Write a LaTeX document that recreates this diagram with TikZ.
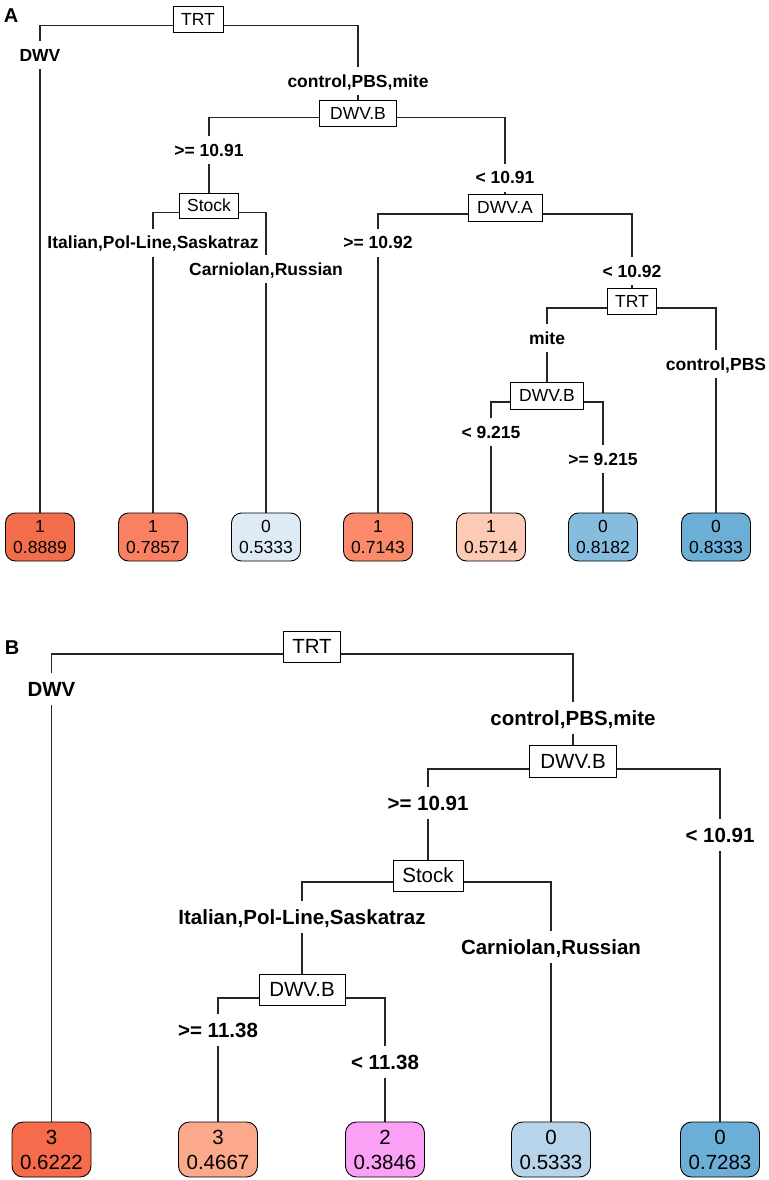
\documentclass[tikz,border=0pt]{standalone}
\usepackage{fontspec}
\setmainfont{Liberation Sans}
\usetikzlibrary{backgrounds}
\definecolor{cA1}{RGB}{244,109,75}
\definecolor{cA2}{RGB}{249,129,98}
\definecolor{cA3}{RGB}{222,235,247}
\definecolor{cA4}{RGB}{251,138,106}
\definecolor{cA5}{RGB}{252,202,181}
\definecolor{cA6}{RGB}{134,189,223}
\definecolor{cA7}{RGB}{107,174,214}
\definecolor{cB1}{RGB}{246,107,76}
\definecolor{cB2}{RGB}{252,168,139}
\definecolor{cB3}{RGB}{250,160,245}
\definecolor{cB4}{RGB}{183,212,235}
\definecolor{cB5}{RGB}{107,174,214}
\begin{document}
\begin{tikzpicture}[x=1pt,y=-1pt,
  edge/.style={line width=1.1pt, draw=black!85},
  boxA/.style={draw, fill=white, line width=0.9pt, inner sep=0pt, minimum height=26, font=\fontsize{17.5}{20}\selectfont},
  boxB/.style={draw, fill=white, line width=0.9pt, inner sep=0pt, minimum height=31, font=\fontsize{20.5}{24}\selectfont},
  lblA/.style={fill=white, inner xsep=1pt, inner ysep=0pt, minimum height=28, text height=12.6, text depth=0, font=\fontsize{17.5}{20}\selectfont\bfseries},
  lblB/.style={fill=white, inner xsep=1pt, inner ysep=0pt, minimum height=32, text height=14.8, text depth=0, font=\fontsize{20.5}{24}\selectfont\bfseries},
  leafA/.style={draw, line width=0.9pt, rounded corners=10pt, minimum width=69, minimum height=48, inner sep=0pt, align=center, font=\fontsize{17.5}{21}\selectfont},
  leafB/.style={draw, line width=0.9pt, rounded corners=11pt, minimum width=79, minimum height=55, inner sep=0pt, align=center, font=\fontsize{20.5}{25}\selectfont},
  panel/.style={font=\fontsize{20}{22}\selectfont\bfseries, inner sep=0pt, text height=14.5, text depth=0}
]
\useasboundingbox (0,0) rectangle (768,1180);

% ---------------- Panel A ----------------
\node[panel] (pA) at (11,15) {A};
\node[boxA, minimum width=50] (tA) at (198,19.5) {TRT};
\node[lblA] (lA1) at (40,55) {DWV};
\node[lblA] (lA2) at (358,81) {control,PBS,mite};
\node[boxA, minimum width=77] (dA) at (358,113) {DWV.B};
\node[lblA] (lA3) at (209,150) {>= 10.91};
\node[boxA, minimum width=59, minimum height=25] (sA) at (209,205.5) {Stock};
\node[lblA] (lA4) at (153,242.5) {Italian,Pol-Line,Saskatraz};
\node[lblA] (lA5) at (266,269) {Carniolan,Russian};
\node[lblA] (lA6) at (505,177.5) {< 10.91};
\node[boxA, minimum width=74, minimum height=27] (aA) at (505,207.5) {DWV.A};
\node[lblA] (lA7) at (378,242.5) {>= 10.92};
\node[lblA] (lA8) at (632,271) {< 10.92};
\node[boxA, minimum width=49] (t2A) at (632,301) {TRT};
\node[lblA] (lA9) at (547,338) {mite};
\node[boxA, minimum width=73, minimum height=27] (b3A) at (547,395.5) {DWV.B};
\node[lblA] (lA10) at (491,432) {< 9.215};
\node[lblA] (lA11) at (603,459) {>= 9.215};
\node[lblA] (lA12) at (716,364) {control,PBS};

\node[leafA, fill=cA1] (fA1) at (40,537) {1\\0.8889};
\node[leafA, fill=cA2] (fA2) at (153,537) {1\\0.7857};
\node[leafA, fill=cA3] (fA3) at (266,537) {0\\0.5333};
\node[leafA, fill=cA4] (fA4) at (378,537) {1\\0.7143};
\node[leafA, fill=cA5] (fA5) at (491,537) {1\\0.5714};
\node[leafA, fill=cA6] (fA6) at (603,537) {0\\0.8182};
\node[leafA, fill=cA7] (fA7) at (716,537) {0\\0.8333};

% ---------------- Panel B ----------------
\node[panel] (pB) at (12,647) {B};
\node[boxB, minimum width=57] (tB) at (312,646.5) {TRT};
\node[lblB] (lB1) at (51.5,689) {DWV};
\node[lblB] (lB2) at (573,718) {control,PBS,mite};
\node[boxB, minimum width=87, minimum height=32] (dB) at (573,761) {DWV.B};
\node[lblB] (lB3) at (428,803) {>= 10.91};
\node[lblB] (lB4) at (720,835) {< 10.91};
\node[boxB, minimum width=70] (sB) at (428,875.5) {Stock};
\node[lblB] (lB5) at (302,917) {Italian,Pol-Line,Saskatraz};
\node[lblB] (lB6) at (551,947) {Carniolan,Russian};
\node[boxB, minimum width=86] (d2B) at (302,989.5) {DWV.B};
\node[lblB] (lB7) at (218,1030) {>= 11.38};
\node[lblB] (lB8) at (385,1062) {< 11.38};

\node[leafB, fill=cB1] (fB1) at (51.5,1149.5) {3\\0.6222};
\node[leafB, fill=cB2] (fB2) at (218,1149.5) {3\\0.4667};
\node[leafB, fill=cB3] (fB3) at (385,1149.5) {2\\0.3846};
\node[leafB, fill=cB4] (fB4) at (551,1149.5) {0\\0.5333};
\node[leafB, fill=cB5] (fB5) at (720,1149.5) {0\\0.7283};

% ---------------- Connectors ----------------
\begin{pgfonlayer}{background}
\fill[white] (0,0) rectangle (768,1180);
\draw[edge] (fA1.north) |- ([yshift=-6pt]tA.center) -| (dA.north);
\draw[edge] (sA.north) |- ([yshift=-4.5pt]dA.center) -| (aA.north);
\draw[edge] (fA2.north) |- ([yshift=-7pt]sA.center) -| (fA3.north);
\draw[edge] (fA4.north) |- ([yshift=-6.5pt]aA.center) -| (t2A.north);
\draw[edge] (b3A.north) |- ([yshift=-7pt]t2A.center) -| (fA7.north);
\draw[edge] (fA5.north) |- ([yshift=-6.5pt]b3A.center) -| (fA6.north);

\draw[edge] (fB1.north) |- ([yshift=-7.5pt]tB.center) -| (dB.north);
\draw[edge] (sB.north) |- ([yshift=-8pt]dB.center) -| (fB5.north);
\draw[edge] (d2B.north) |- ([yshift=-6.5pt]sB.center) -| (fB4.north);
\draw[edge] (fB2.north) |- ([yshift=-8.5pt]d2B.center) -| (fB3.north);
\end{pgfonlayer}
\end{tikzpicture}
\end{document}
